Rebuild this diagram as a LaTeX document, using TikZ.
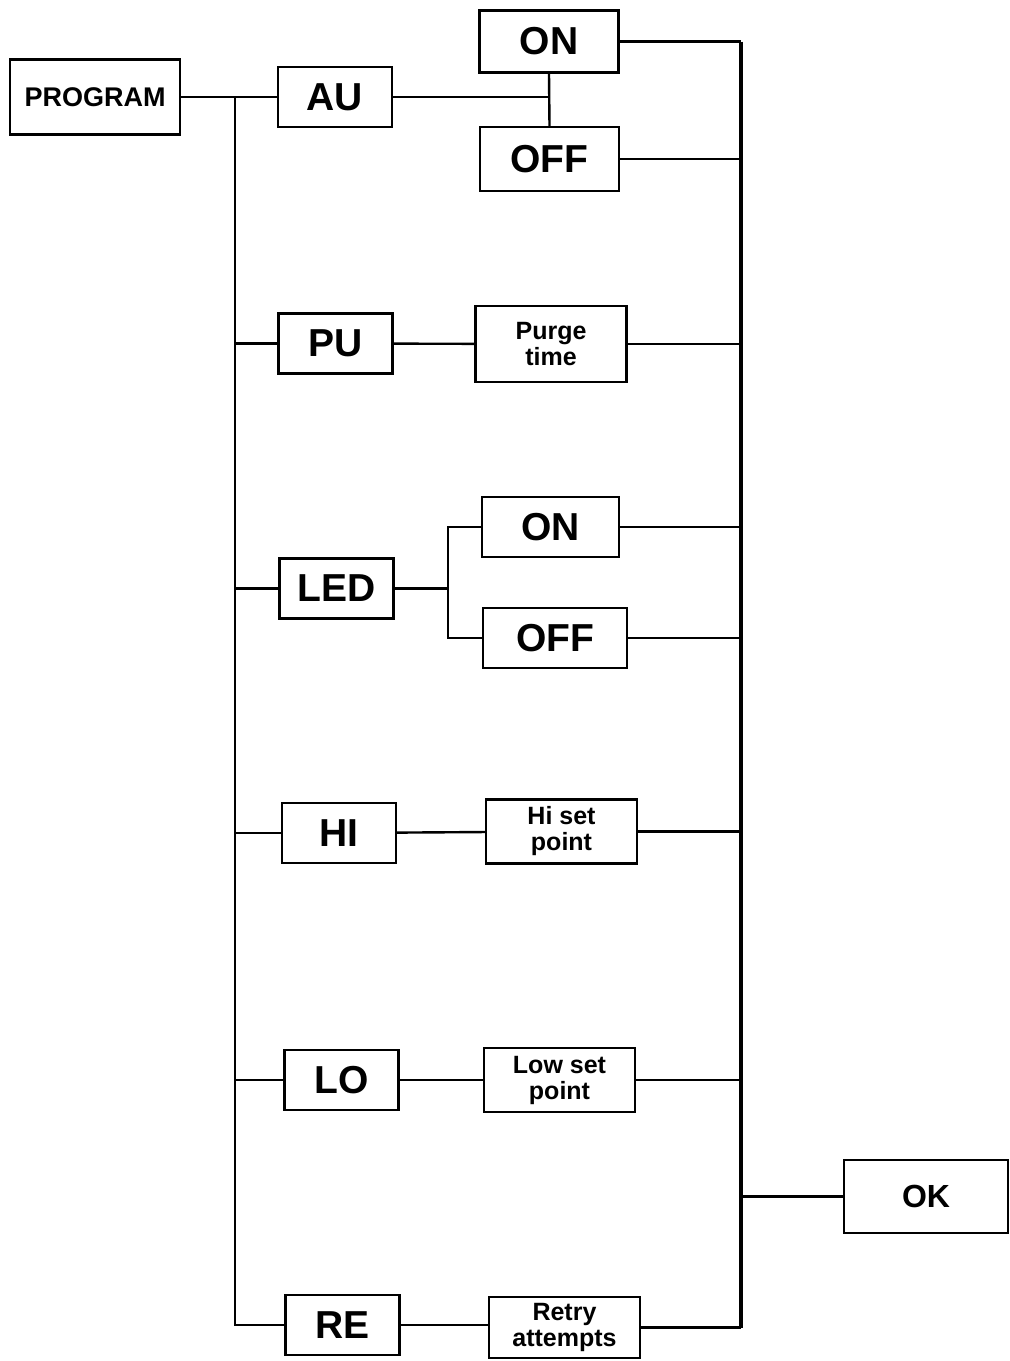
\documentclass[tikz,border=0pt]{standalone}
\usepackage{fontspec}
\setmainfont{Liberation Sans}
\usepackage{tikz}
\usetikzlibrary{positioning}

\begin{document}
\begin{tikzpicture}[
    x=0.5pt, y=-0.5pt,
    line width=1.2pt,
    key/.style={rectangle, draw, inner sep=0pt, minimum width=57pt, minimum height=30pt,
      font=\bfseries\fontsize{19.5}{21}\selectfont},
    sw/.style={rectangle, draw, inner sep=0pt, minimum width=69.5pt, minimum height=31pt,
      font=\bfseries\fontsize{19.5}{21}\selectfont},
    val/.style={rectangle, draw, inner sep=0pt, minimum width=75.5pt, minimum height=32pt,
      align=center, font=\bfseries\fontsize{12.5}{13}\selectfont},
    bus/.style={line width=1.7pt}
  ]
    \useasboundingbox (0,0) rectangle (1010,1361);
    \node[rectangle, draw, inner sep=0pt, minimum width=85pt, minimum height=37.5pt,
      font=\bfseries\fontsize{13.5}{15}\selectfont] (prog) at (95,97) {PROGRAM};
    \node[key] (au) at (335,97) {AU};
    \node[sw] (auon) at (549,41.5) {ON};
    \node[sw, minimum height=32pt] (auoff) at (549.5,159) {OFF};
    \node[key] (pu) at (335.5,343.5) {PU};
    \node[val, minimum height=38pt] (purge) at (551,344) {Purge\\time};
    \node[key] (led) at (336.5,588.5) {LED};
    \node[sw, minimum width=68.5pt, minimum height=30pt] (ledon) at (550.5,527) {ON};
    \node[sw, minimum width=72pt, minimum height=30pt] (ledoff) at (555,638) {OFF};
    \node[key] (hi) at (339,833) {HI};
    \node[val] (hiset) at (561.5,831.5) {Hi set\\point};
    \node[key] (lo) at (341.5,1080) {LO};
    \node[val] (loset) at (559.5,1080) {Low set\\point};
    \node[key] (re) at (342.5,1325) {RE};
    \node[val, minimum height=30.5pt] (retry) at (564.5,1327.5) {Retry\\attempts};
    \node[rectangle, draw, inner sep=0pt, minimum width=82pt, minimum height=36.5pt,
      font=\bfseries\fontsize{16}{18}\selectfont] (ok) at (926,1196.5) {OK};

    \coordinate (ltop) at (235,97);
    \coordinate (rtop) at (741,41.5);
    \coordinate (ledj) at (448,588.5);

    \draw (prog) -- (au);
    \draw (ltop) |- (re.west);
    \draw (pu.west) -- (pu.west -| ltop);
    \draw (led.west) -- (led.west -| ltop);
    \draw (hi.west) -- (hi.west -| ltop);
    \draw (lo.west) -- (lo.west -| ltop);

    \draw (au.east) -- (au.east -| auon.south);
    \draw (auon.south) -- (auoff.north);
    \draw (pu) -- (purge);
    \draw (led.east) -- (ledj);
    \draw (ledon.west) -| (ledj) |- (ledoff.west);
    \draw (hi) -- (hiset);
    \draw (lo) -- (loset);
    \draw (re.east) -- (re.east -| retry.west);

    \draw (auon.east) -- (rtop);
    \draw[bus] (rtop) -- (rtop |- retry.east);
    \draw (retry.east) -- (retry.east -| rtop);
    \draw (auoff.east) -- (auoff.east -| rtop);
    \draw (purge.east) -- (purge.east -| rtop);
    \draw (ledon.east) -- (ledon.east -| rtop);
    \draw (ledoff.east) -- (ledoff.east -| rtop);
    \draw (hiset.east) -- (hiset.east -| rtop);
    \draw (loset.east) -- (loset.east -| rtop);
    \draw (ok.west) -- (ok.west -| rtop);
  \end{tikzpicture}
\end{document}
